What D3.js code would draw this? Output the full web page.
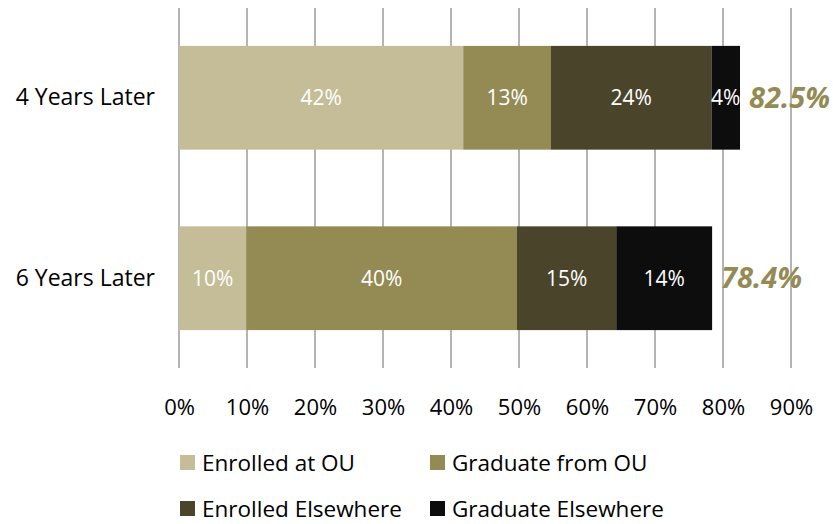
<!DOCTYPE html>
<html>
<head>
<meta charset="utf-8">
<script src="https://cdn.jsdelivr.net/npm/d3@7"></script>
<style>
  body { margin: 0; background: #fff; }
  svg text { font-family: "Open Sans", Lato, sans-serif; }
</style>
</head>
<body>
<div id="chart"></div>
<script>
const categories = ["4 Years Later", "6 Years Later"];
const seriesNames = ["Enrolled at OU", "Graduate from OU", "Enrolled Elsewhere", "Graduate Elsewhere"];
const enrolledOU = [41.8, 9.9];
const graduateOU = [12.9, 39.8];
const enrolledElse = [23.6, 14.6];
const graduateElse = [4.2, 14.1];
const totals = ["82.5%", "78.4%"];
const tickValues = [0, 10, 20, 30, 40, 50, 60, 70, 80, 90];
const colors = ["#C4BD97", "#948A54", "#4A452A", "#0D0D0D"];

const W = 833, H = 524;
const margin = { top: 8, right: 42, bottom: 156, left: 179 };
const width = W - margin.left - margin.right,
      height = H - margin.top - margin.bottom;

const rows = categories.map((c, i) => ({
    cat: c,
    "Enrolled at OU": enrolledOU[i],
    "Graduate from OU": graduateOU[i],
    "Enrolled Elsewhere": enrolledElse[i],
    "Graduate Elsewhere": graduateElse[i],
    total: totals[i]
}));

const svg = d3.select("#chart").append("svg")
    .attr("width", W)
    .attr("height", H);

const g = svg.append("g")
    .attr("transform", `translate(${margin.left},${margin.top})`);

const x = d3.scaleLinear().domain([0, 90]).range([0, width]);
const y = d3.scaleBand().domain(categories).range([0, height]).paddingInner(0.425).paddingOuter(0.21);
const color = d3.scaleOrdinal().domain(seriesNames).range(colors);

// gridlines
g.selectAll(".grid")
    .data(tickValues)
    .enter()
    .append("line")
    .attr("x1", d => x(d)).attr("x2", d => x(d))
    .attr("y1", 0).attr("y2", height)
    .attr("stroke", "#8c8c8c")
    .attr("stroke-width", 1.3);

const stacked = d3.stack().keys(seriesNames)(rows);

const layers = g.selectAll(".layer")
    .data(stacked)
    .enter()
    .append("g")
    .attr("fill", d => color(d.key));

layers.selectAll("rect")
    .data(d => d)
    .enter()
    .append("rect")
    .attr("x", d => x(d[0]))
    .attr("y", d => y(d.data.cat))
    .attr("width", d => x(d[1]) - x(d[0]))
    .attr("height", y.bandwidth());

layers.selectAll("text")
    .data(d => d)
    .enter()
    .append("text")
    .attr("x", d => (x(d[0]) + x(d[1])) / 2)
    .attr("y", d => y(d.data.cat) + y.bandwidth() / 2)
    .attr("dy", "0.35em")
    .attr("text-anchor", "middle")
    .attr("fill", "#fff")
    .style("font-size", "21px")
    .text(d => Math.round(d[1] - d[0]) + "%");

// totals
g.selectAll(".total")
    .data(stacked[stacked.length - 1])
    .enter()
    .append("text")
    .attr("x", d => x(d[1]) + 9)
    .attr("y", d => y(d.data.cat) + y.bandwidth() / 2)
    .attr("dy", "0.35em")
    .attr("fill", "#948A54")
    .style("font-size", "29px")
    .style("font-weight", "bold")
    .style("font-style", "italic")
    .text(d => d.data.total);

// y axis labels
const yAxis = g.append("g")
    .call(d3.axisLeft(y).tickSize(0).tickPadding(24));
yAxis.select(".domain").remove();
yAxis.selectAll("text")
    .attr("fill", "#000")
    .style("font-size", "23px");

// x axis
const xAxis = g.append("g")
    .attr("transform", `translate(0,${height})`)
    .call(d3.axisBottom(x).tickValues(tickValues).tickSize(0).tickPadding(31).tickFormat(d => d + "%"));
xAxis.select(".domain").remove();
xAxis.selectAll("text")
    .attr("fill", "#000")
    .style("font-size", "22px");

// legend
const legendPos = [[180, 455], [430, 455], [180, 501], [430, 501]];
const legend = svg.selectAll(".legend")
    .data(seriesNames)
    .enter()
    .append("g")
    .attr("transform", (d, i) => `translate(${legendPos[i][0]},${legendPos[i][1]})`);

legend.append("rect")
    .attr("width", 15).attr("height", 15)
    .attr("fill", d => color(d));

legend.append("text")
    .attr("x", 22)
    .attr("y", 8)
    .attr("dy", "0.35em")
    .attr("fill", "#000")
    .style("font-size", "22.5px")
    .text(d => d);
</script>
</body>
</html>
